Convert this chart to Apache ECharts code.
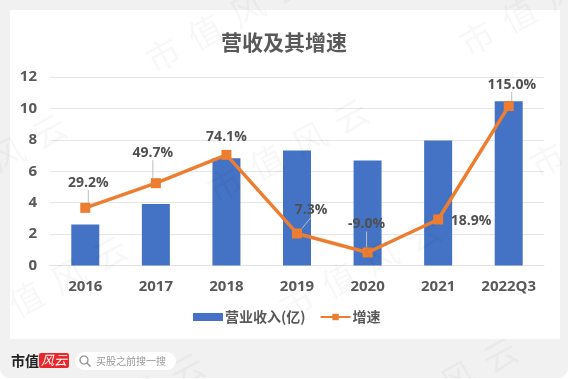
<!DOCTYPE html>
<html><head><meta charset="utf-8">
<style>html,body{margin:0;padding:0;background:#fff}#c{width:568px;height:379px;filter:blur(0.35px)}</style>
<script src="https://cdn.jsdelivr.net/npm/echarts@6/dist/echarts.min.js"></script>
</head><body><div id="c"></div>
<script>
const categories = ['2016','2017','2018','2019','2020','2021','2022Q3'];
const revenue = [2.61,3.92,6.83,7.32,6.69,7.96,10.45];
const growthPlot = [3.67,5.24,7.04,2.04,0.83,2.93,10.15];
const growthLabels = ['29.2%','49.7%','74.1%','7.3%','-9.0%','18.9%','115.0%'];
const hasLeader = [true,true,false,true,true,false,true];
const labelOffsets = [[3,-25],[-3,-30],[0,-18],[14,-23],[-1,-28],[33,2],[3,-21]];
const yTicks = {min:0,max:12,interval:2};
const title = '营收及其增速';
const legendNames = ['营业收入(亿)','增速'];
const watermarkChars = ['市','值','风','云'];
const watermarkStarts = [[163,55],[477,38],[225,185],[-77,200],[-16,322],[297,303],[547,160],[374,424],[61,439]];
const font = '"Noto Sans CJK SC","Open Sans",sans-serif';
const numFont = '"Open Sans","Noto Sans CJK SC",sans-serif';
const textColor = '#595959';

const wm = ([x,y]) => watermarkChars.map((ch,i)=>({type:'text',x:x+42*i,y:y-23*i,rotation:0.5,z:50,silent:true,
  style:{text:ch,font:'34px "Noto Sans CJK SC"',fill:'rgba(0,0,0,0.03)',align:'center',verticalAlign:'middle'}}));

const chart = echarts.init(document.getElementById('c'),null,{renderer:'canvas'});
chart.setOption({
  animation:false,
  textStyle:{fontFamily:font},
  title:{text:title,left:'center',top:27,textStyle:{fontSize:21,fontWeight:'bold',color:textColor,fontFamily:font}},
  grid:{left:50,right:24,top:77,height:188.5,containLabel:false},
  legend:{data:[{name:legendNames[0],icon:'rect'},{name:legendNames[1]}],left:188,top:305,itemWidth:30,itemHeight:8,itemGap:14,
    textStyle:{fontSize:14,fontWeight:'bold',color:textColor,fontFamily:font,padding:[0,0,0,-3]}},
  xAxis:{type:'category',data:categories,axisTick:{show:false},
    axisLine:{lineStyle:{color:'#e4e4e4',width:1}},
    axisLabel:{fontSize:15,fontWeight:'bold',color:textColor,fontFamily:numFont,margin:14,interval:0}},
  yAxis:{type:'value',min:yTicks.min,max:yTicks.max,interval:yTicks.interval,
    axisLine:{show:false},axisTick:{show:false},
    splitLine:{lineStyle:{color:'#e6e6e6',width:1}},
    axisLabel:{fontSize:15,fontWeight:'bold',color:textColor,fontFamily:numFont,margin:13}},
  series:[
    {name:legendNames[0],type:'bar',data:revenue,barWidth:28,itemStyle:{color:'#4472c4'}},
    {name:legendNames[1],type:'line',
      data:growthPlot.map((v,i)=>({value:v,labelLine:{show:hasLeader[i]}})),
      symbol:'rect',symbolSize:10,
      lineStyle:{color:'#ed7d31',width:3.5},itemStyle:{color:'#ed7d31'},
      label:{show:true,position:'inside',color:'#505050',fontSize:14,fontWeight:'bold',fontFamily:numFont,
        formatter:p=>growthLabels[p.dataIndex]},
      labelLine:{show:true,lineStyle:{color:'#bdbdbd',width:1}},
      labelLayout:p=>({dx:labelOffsets[p.dataIndex][0],dy:labelOffsets[p.dataIndex][1]})
    }
  ],
  graphic:[
    {type:'rect',z:-2,silent:true,shape:{x:0,y:0,width:568,height:378,r:[0,0,10,10]},style:{fill:'#f1f1f1'}},
    {type:'rect',z:-1,silent:true,shape:{x:10,y:10,width:550,height:329},style:{fill:'#fff'}},
    ...watermarkStarts.flatMap(wm),
    {type:'text',x:11,y:361,z:60,silent:true,style:{text:'市值',font:'bold 14px "Noto Sans CJK SC"',fill:'#222',verticalAlign:'middle'}},
    {type:'rect',x:39,y:353,z:60,silent:true,shape:{x:0,y:0,width:30,height:15,r:2},style:{fill:'#e8262c'}},
    {type:'text',x:54,y:360.5,z:61,silent:true,style:{text:'风云',font:'italic 13px "Noto Sans CJK SC"',fill:'#fff',align:'center',verticalAlign:'middle'}},
    {type:'rect',x:75,y:352,z:60,silent:true,shape:{x:0,y:0,width:101,height:18,r:9},style:{fill:'#fff'}},
    {type:'circle',x:84,y:360,z:61,silent:true,shape:{cx:0,cy:0,r:4},style:{fill:'none',stroke:'#8c8c8c',lineWidth:1.2}},
    {type:'line',z:61,silent:true,shape:{x1:87,y1:363,x2:90.5,y2:366.5},style:{stroke:'#8c8c8c',lineWidth:1.3}},
    {type:'text',x:96,y:361,z:61,silent:true,style:{text:'买股之前搜一搜',font:'10px "Noto Sans CJK SC"',fill:'#9a9a9a',verticalAlign:'middle'}}
  ]
});
</script></body></html>
